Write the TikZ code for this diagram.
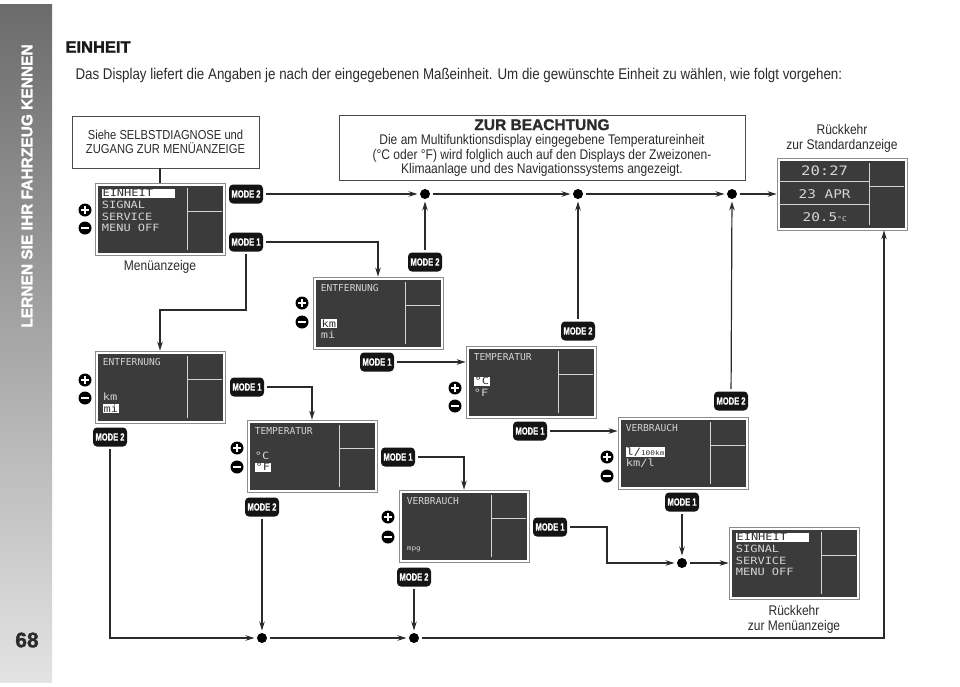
\documentclass[tikz,border=0pt]{standalone}
\usepackage{fontspec}
\setmainfont{Liberation Sans}[FakeStretch=0.86]
\newfontfamily\heavysans{Liberation Sans}[BoldFeatures={FakeBold=1.5}]
\newfontfamily\lcdfont{DejaVu Sans Mono}[FakeStretch=1.2]
\newfontfamily\lcdhead{DejaVu Sans Mono}
\newfontfamily\narrowbold{Liberation Sans}[FakeStretch=0.72,BoldFeatures={FakeBold=0.8}]
\usepackage{tikz}
\usetikzlibrary{arrows.meta}
\usetikzlibrary{calc}
\usetikzlibrary{positioning}

\definecolor{lcdgray}{HTML}{3B3B3B}
\definecolor{lcdink}{HTML}{D4D4D4}
\definecolor{inkgray}{HTML}{2B2B2B}

\newcommand{\lcdsel}[1]{{\setlength{\fboxsep}{0.7pt}\colorbox{white}{\color{black!80}#1}}}

\begin{document}
\begin{tikzpicture}[x=1pt,y=-1pt,
  >={Stealth[length=9pt,width=5.5pt]},
  conn/.style={draw=inkgray,line width=1.2pt},
  lcd/.style={rectangle,draw=black!45,line width=0.7pt,fill=white,
    minimum width=130pt,minimum height=72pt,inner sep=0pt,
    path picture={
      \fill[lcdgray] ([shift={(2.5pt,-2.5pt)}]path picture bounding box.north west)
        rectangle ([shift={(-2.5pt,2.5pt)}]path picture bounding box.south east);
      \draw[lcdink,line width=0.8pt]
        ([shift={(92pt,-5pt)}]path picture bounding box.north west) -- ([shift={(92pt,5pt)}]path picture bounding box.south west)
        ([shift={(92pt,-28pt)}]path picture bounding box.north west) -- ([shift={(-3pt,-28pt)}]path picture bounding box.north east);
    }},
  lcdtext/.style={text=lcdink,font=\lcdfont\fontsize{10}{11.7}\selectfont,inner sep=0pt,anchor=north west,align=left},
  lcdtitle/.style={lcdtext,font=\lcdhead\fontsize{9.6}{11}\selectfont},
  badge/.style={rectangle,rounded corners=4pt,fill=black!92,text=white,
    font=\narrowbold\bfseries\fontsize{10.5}{11}\selectfont,
    minimum width=34pt,minimum height=19pt,inner sep=0pt,outer sep=2.5pt},
  jdot/.style={circle,fill=black,minimum size=10pt,inner sep=0pt,outer sep=2.5pt},
  plusbtn/.style={circle,fill=black,minimum size=13pt,inner sep=0pt,
    path picture={\draw[white,line width=2.2pt]
      ([xshift=-3.8pt]path picture bounding box.center) -- ([xshift=3.8pt]path picture bounding box.center)
      ([yshift=-3.8pt]path picture bounding box.center) -- ([yshift=3.8pt]path picture bounding box.center);}},
  minusbtn/.style={circle,fill=black,minimum size=13pt,inner sep=0pt,
    path picture={\draw[white,line width=2.2pt]
      ([xshift=-3.8pt]path picture bounding box.center) -- ([xshift=3.8pt]path picture bounding box.center);}},
  infobox/.style={rectangle,draw=black!70,line width=0.8pt,inner sep=0pt,align=center,text=inkgray},
  caption/.style={align=center,text=inkgray,font=\fontsize{14}{15}\selectfont}
]

  \useasboundingbox (0,0) rectangle (960,686);

  % side band
  \shade[top color=black!58,bottom color=black!11] (0,4) rectangle (52,682);
  \node [rotate=90,text=white,font=\heavysans\bfseries\fontsize{15.5}{16}\selectfont] (side) at (27,186) {LERNEN SIE IHR FAHRZEUG KENNEN};
  \node [text=inkgray,font=\heavysans\bfseries\fontsize{21}{22}\selectfont] (page) at (27,640) {68};

  \node [anchor=west,text=black!90,font=\heavysans\bfseries\fontsize{16.5}{17}\selectfont] (title) at (62,47) {EINHEIT};
  \node [anchor=west,text=inkgray,font=\fontsize{15.5}{17}\selectfont] (intro) at (72,75)
    {Das Display liefert die Angaben je nach der eingegebenen Maßeinheit. Um die gewünschte Einheit zu wählen, wie folgt vorgehen:};

  \node [infobox,minimum width=187pt,minimum height=52pt,font=\fontsize{13}{14.5}\selectfont] (siehe) at (165.5,142)
    {Siehe SELBSTDIAGNOSE und\\ZUGANG ZUR MENÜANZEIGE};
  \node [infobox,minimum width=406pt,minimum height=65pt,font=\fontsize{14}{14.6}\selectfont] (note) at (542,148)
    {{\heavysans\bfseries\fontsize{15.5}{14.6}\selectfont ZUR BEACHTUNG}\\
     Die am Multifunktionsdisplay eingegebene Temperatureinheit\\
     (°C oder °F) wird folglich auch auf den Displays der Zweizonen-\\
     Klimaanlage und des Navigationssystems angezeigt.};

  % displays
  \node [lcd] (menuA) at (160,219) {};
  \node [lcd] (entA)  at (378,313) {};
  \node [lcd] (tempA) at (531,382) {};
  \node [lcd] (verbA) at (683,453) {};
  \node [lcd] (entB)  at (160,387) {};
  \node [lcd] (tempB) at (312,456) {};
  \node [lcd] (verbB) at (464,526) {};
  \node [lcd] (menuB) at (794,563) {};
  \node [lcd] (std)   at (842,194) {};

  \node [lcdtext] (menuAtxt) at ([shift={(7pt,-6pt)}]menuA.north west) {\lcdsel{\makebox[72pt][l]{EINHEIT}}\\SIGNAL\\SERVICE\\MENU OFF};
  \node [lcdtext] (menuBtxt) at ([shift={(7pt,-6pt)}]menuB.north west) {\lcdsel{\makebox[72pt][l]{EINHEIT}}\\SIGNAL\\SERVICE\\MENU OFF};
  \node [lcdtitle] (entAhead) at ([shift={(8pt,-8pt)}]entA.north west) {ENTFERNUNG};
  \node [lcdtext]  (entAval)  at ([shift={(8pt,-42pt)}]entA.north west) {\lcdsel{km}\\mi};
  \node [lcdtitle] (entBhead) at ([shift={(8pt,-8pt)}]entB.north west) {ENTFERNUNG};
  \node [lcdtext]  (entBval)  at ([shift={(8pt,-42pt)}]entB.north west) {km\\\lcdsel{mi}};
  \node [lcdtitle] (tempAhead) at ([shift={(8pt,-8pt)}]tempA.north west) {TEMPERATUR};
  \node [lcdtext]  (tempAval)  at ([shift={(8pt,-31pt)}]tempA.north west) {\lcdsel{°C}\\°F};
  \node [lcdtitle] (tempBhead) at ([shift={(8pt,-8pt)}]tempB.north west) {TEMPERATUR};
  \node [lcdtext]  (tempBval)  at ([shift={(8pt,-32pt)}]tempB.north west) {°C\\\lcdsel{°F}};
  \node [lcdtitle] (verbAhead) at ([shift={(8pt,-8pt)}]verbA.north west) {VERBRAUCH};
  \node [lcdtext]  (verbAval)  at ([shift={(8pt,-30pt)}]verbA.north west) {\lcdsel{\makebox[38pt][l]{l/{\fontsize{6.5}{7}\selectfont100km}}}\\km/l};
  \node [lcdtitle] (verbBhead) at ([shift={(8pt,-8pt)}]verbB.north west) {VERBRAUCH};
  \node [lcdtext,font=\lcdfont\fontsize{6.5}{7}\selectfont] (verbBval) at ([shift={(8pt,-57pt)}]verbB.north west) {mpg};

  \draw [lcdink,line width=0.8pt]
    ([shift={(2.5pt,-24pt)}]std.north west) -- ([shift={(92pt,-24pt)}]std.north west)
    ([shift={(2.5pt,-47pt)}]std.north west) -- ([shift={(92pt,-47pt)}]std.north west);
  \node [lcdtext,anchor=center,font=\lcdfont\fontsize{13}{15}\selectfont] (stdtime) at ([shift={(48pt,-13pt)}]std.north west) {20:27};
  \node [lcdtext,anchor=center,font=\lcdfont\fontsize{12}{15}\selectfont] (stddate) at ([shift={(48pt,-36pt)}]std.north west) {23 APR};
  \node [lcdtext,anchor=center,font=\lcdfont\fontsize{12}{15}\selectfont] (stdtemp) at ([shift={(48pt,-59pt)}]std.north west) {20.5{\fontsize{6.5}{7}\selectfont°C}};

  \node [caption,below=1pt of menuA] (menuAlbl) {Menüanzeige};
  \node [caption,above=2pt of std] (stdlbl) {Rückkehr\\zur Standardanzeige};
  \node [caption,below=2pt of menuB] (menuBlbl) {Rückkehr\\zur Menüanzeige};

  % plus / minus keys
  \node [plusbtn]  (menuAplus)  at (85,210) {};
  \node [minusbtn] (menuAminus) at (85,228) {};
  \node [plusbtn]  (entAplus)   at (302,303) {};
  \node [minusbtn] (entAminus)  at (302,322) {};
  \node [plusbtn]  (tempAplus)  at (455,388) {};
  \node [minusbtn] (tempAminus) at (455,406) {};
  \node [plusbtn]  (verbAplus)  at (607,457) {};
  \node [minusbtn] (verbAminus) at (607,476) {};
  \node [plusbtn]  (entBplus)   at (85,380) {};
  \node [minusbtn] (entBminus)  at (85,398) {};
  \node [plusbtn]  (tempBplus)  at (237,448) {};
  \node [minusbtn] (tempBminus) at (237,467) {};
  \node [plusbtn]  (verbBplus)  at (388,517) {};
  \node [minusbtn] (verbBminus) at (388,537) {};

  % mode keys
  \node [badge] (m2a) at (246,194) {MODE 2};
  \node [badge] (m1a) at (246,242) {MODE 1};
  \node [badge] (m2b) at (425,262) {MODE 2};
  \node [badge] (m1b) at (377,362) {MODE 1};
  \node [badge] (m2c) at (578,331) {MODE 2};
  \node [badge] (m1c) at (530,431) {MODE 1};
  \node [badge] (m2d) at (731,401) {MODE 2};
  \node [badge] (m1d) at (682,502) {MODE 1};
  \node [badge] (m1e) at (247,387) {MODE 1};
  \node [badge] (m2e) at (110,437) {MODE 2};
  \node [badge] (m1f) at (398,457) {MODE 1};
  \node [badge] (m2f) at (262,507) {MODE 2};
  \node [badge] (m1g) at (550,527) {MODE 1};
  \node [badge] (m2g) at (414,577) {MODE 2};

  % junctions
  \node [jdot] (dot1) at (425,194) {};
  \node [jdot] (dot2) at (578,194) {};
  \node [jdot] (dot3) at (732,194) {};
  \node [jdot] (dot4) at (682,563) {};
  \node [jdot] (dot5) at (262,638) {};
  \node [jdot] (dot6) at (414,638) {};

  \path [conn,->]
    (m2a)  edge (dot1)
    (dot1) edge (dot2)
    (dot2) edge (dot3)
    (dot3) edge (std)
    (m2b)  edge (dot1)
    (m2c)  edge (dot2)
    (m2d)  edge (dot3)
    (m1b)  edge (tempA.west |- m1b)
    (m1c)  edge (verbA.west |- m1c)
    (m1d)  edge (dot4)
    (dot4) edge (menuB)
    (m2f)  edge (dot5)
    (dot5) edge (dot6)
    (m2g)  edge (dot6);

  \draw [conn] (menuA.north |- siehe.south) -- (menuA.north);
  \draw [conn,->] (m1a) -| (entA);
  \draw [conn,->] (m1a) -- ++(0,68) -| (entB);
  \draw [conn,->] (m1e) -| (tempB);
  \draw [conn,->] (m2e) |- (dot5);
  \draw [conn,->] (m1f) -| (verbB);
  \draw [conn,->] (m1g) -- ++(57,0) |- (dot4);
  \draw [conn,->] (dot6) -| ([xshift=42pt]std.south);

\end{tikzpicture}
\end{document}
